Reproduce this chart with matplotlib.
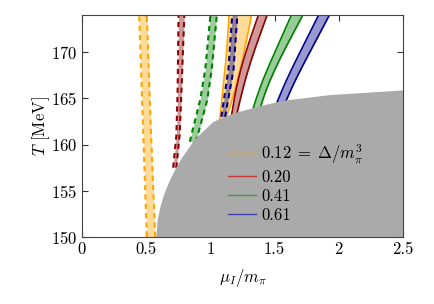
import matplotlib
matplotlib.use("Agg")
import matplotlib.pyplot as plt
from matplotlib.lines import Line2D

plt.rcParams["font.family"] = "serif"
plt.rcParams["font.serif"] = ["cmr10"]
plt.rcParams["mathtext.fontset"] = "cm"
plt.rcParams["axes.formatter.use_mathtext"] = True
plt.rcParams["font.size"] = 12

# values of Delta/m_pi^3 for each colour
labels = [r"$0.12\;=\;\Delta/m_\pi^3$", "0.20", "0.41", "0.61"]
colors = ["orange", "darkred", "green", "darkblue"]
legend_colors = ["#f7a21b", "#c43c3c", "#3c9c3c", "#3c3cae"]

# left branch (dashed bands): T, lower mu, upper mu
dash_T = [
    [150, 162, 174],
    [157.5, 161, 166, 174],
    [160.3, 161.2, 164.8, 168.1, 174],
    [163, 163.4, 168.1, 174],
]
dash_lo = [
    [0.505, 0.475, 0.445],
    [0.71, 0.735, 0.745, 0.752],
    [0.84, 0.855, 0.92, 0.96, 1.0],
    [1.085, 1.09, 1.14, 1.17],
]
dash_hi = [
    [0.57, 0.535, 0.505],
    [0.735, 0.76, 0.775, 0.797],
    [0.885, 0.905, 0.975, 1.01, 1.05],
    [1.115, 1.12, 1.18, 1.21],
]

# right branch (solid bands)
solid_T = [
    [162.6, 163, 164, 165, 166, 167, 168, 169, 170, 171, 172, 173, 174],
    [163.2, 164, 165, 166, 167, 168, 169, 170, 171, 172, 173, 174],
    [164.0, 165, 166, 167, 168, 169, 170, 171, 172, 173, 174],
    [164.6, 165, 166, 167, 168, 169, 170, 171, 172, 173, 174],
]
solid_lo = [
    [1.07, 1.075, 1.083, 1.09, 1.097, 1.105, 1.112, 1.12, 1.126, 1.131, 1.136, 1.141, 1.145],
    [1.165, 1.175, 1.187, 1.201, 1.217, 1.235, 1.255, 1.277, 1.3, 1.324, 1.349, 1.374],
    [1.335, 1.358, 1.383, 1.41, 1.44, 1.471, 1.503, 1.535, 1.567, 1.599, 1.631],
    [1.52, 1.532, 1.562, 1.594, 1.628, 1.663, 1.699, 1.735, 1.771, 1.807, 1.843],
]
solid_hi = [
    [1.115, 1.125, 1.15, 1.172, 1.192, 1.211, 1.229, 1.246, 1.262, 1.277, 1.292, 1.306, 1.32],
    [1.205, 1.218, 1.235, 1.253, 1.272, 1.293, 1.315, 1.339, 1.364, 1.39, 1.416, 1.442],
    [1.39, 1.412, 1.438, 1.467, 1.499, 1.533, 1.569, 1.606, 1.644, 1.682, 1.72],
    [1.585, 1.598, 1.63, 1.664, 1.7, 1.737, 1.775, 1.813, 1.851, 1.889, 1.927],
]

# grey excluded region boundary
grey_mu = [0.575, 0.585, 0.605, 0.635, 0.675, 0.725, 0.775, 0.875, 1.02, 1.175, 1.385, 1.575, 1.93, 2.5]
grey_T = [150, 151.8, 153.2, 154.6, 156.0, 157.4, 158.6, 160.6, 162.5, 163.4, 164.2, 164.8, 165.4, 165.9]

fig = plt.figure(figsize=(4.35, 3.04), dpi=100)
ax = fig.add_axes([82 / 435, 1 - 237 / 304, 321 / 435, 222 / 304])

for i in range(4):
    c = colors[i]
    ax.fill_betweenx(dash_T[i], dash_lo[i], dash_hi[i], color=c, alpha=0.4, lw=0)
    ax.plot(dash_lo[i], dash_T[i], color=c, lw=1.5, ls=(0, (2.5, 2)))
    ax.plot(dash_hi[i], dash_T[i], color=c, lw=1.5, ls=(0, (2.5, 2)))
    ax.fill_betweenx(solid_T[i], solid_lo[i], solid_hi[i], color=c, alpha=0.4, lw=0)
    ax.plot(solid_lo[i], solid_T[i], color=c, lw=1.2)
    ax.plot(solid_hi[i], solid_T[i], color=c, lw=1.2)

ax.fill_between(grey_mu, 150, grey_T, color="#aaaaaa", lw=0, zorder=5)

handles = [Line2D([], [], color=c, lw=1.0) for c in legend_colors]
leg = ax.legend(handles, labels, loc="upper left", bbox_to_anchor=(0.428, 0.463),
                frameon=False, borderpad=0, handlelength=1.7, handletextpad=0.3,
                labelspacing=0.22)
leg.set_zorder(10)

ax.set_xlim(0, 2.5)
ax.set_ylim(150, 174)
ax.set_xticks([0, 0.5, 1, 1.5, 2, 2.5])
ax.set_xticklabels(["0", "0.5", "1", "1.5", "2", "2.5"])
ax.set_yticks([150, 155, 160, 165, 170])
ax.tick_params(direction="in", top=True, right=True, length=4, color="#333333")
for s in ax.spines.values():
    s.set_color("#444444")
    s.set_zorder(11)
ax.set_xlabel(r"$\mu_I/m_\pi$", labelpad=7)
ax.set_ylabel(r"$T$ [MeV]", labelpad=-1)

fig.savefig("out.png", dpi=100)
